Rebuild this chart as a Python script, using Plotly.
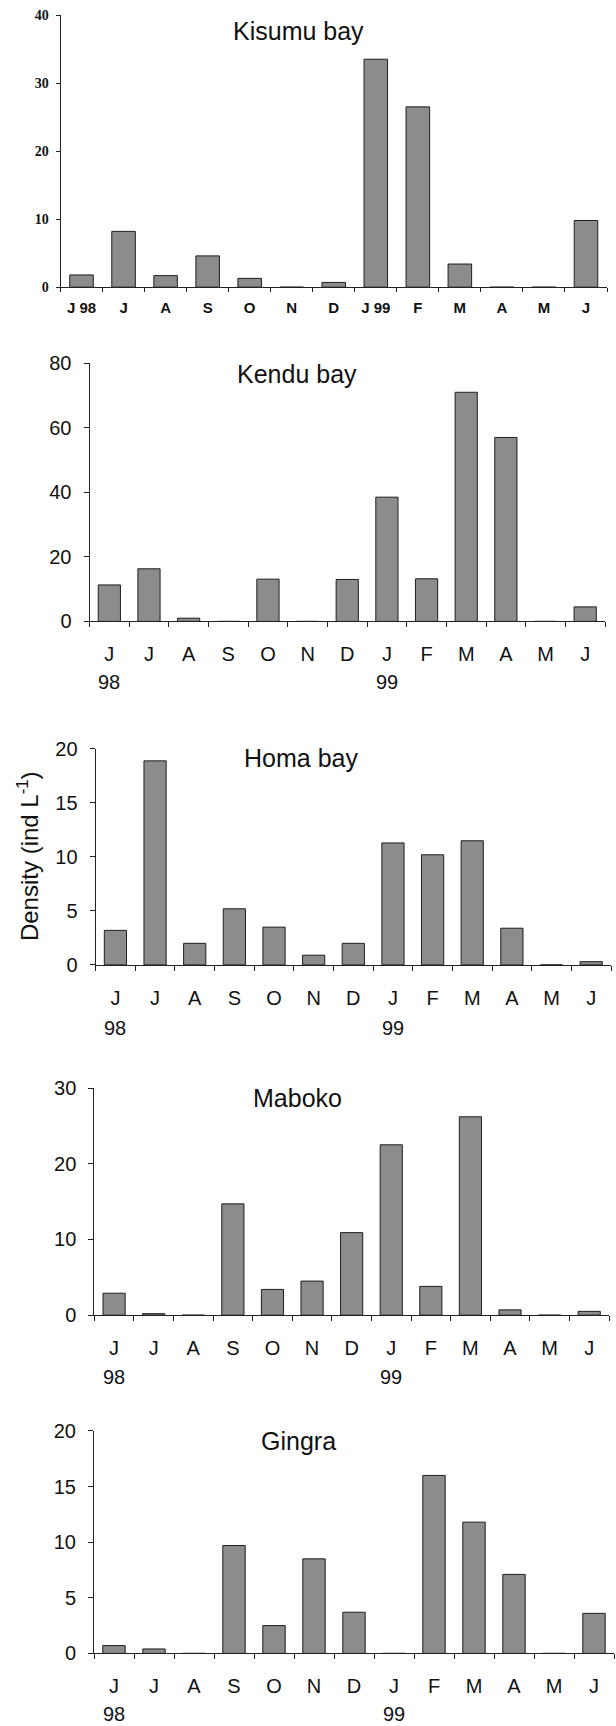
import plotly.graph_objects as go

W, H = 616, 1726

# ---- data -------------------------------------------------------------
months = ["Jun98", "Jul98", "Aug98", "Sep98", "Oct98", "Nov98", "Dec98",
          "Jan99", "Feb99", "Mar99", "Apr99", "May99", "Jun99"]
month_letters = ["J", "J", "A", "S", "O", "N", "D", "J", "F", "M", "A", "M", "J"]
kisumu_ticktext = ["J 98", "J", "A", "S", "O", "N", "D", "J 99", "F", "M", "A", "M", "J"]
year_labels = {"Jun98": "98", "Jan99": "99"}

stations = ["Kisumu bay", "Kendu bay", "Homa bay", "Maboko", "Gingra"]
kisumu = [1.8, 8.2, 1.7, 4.6, 1.3, 0, 0.7, 33.5, 26.5, 3.4, 0, 0, 9.8]
kendu = [11.3, 16.3, 1.0, 0, 13.1, 0, 13.0, 38.5, 13.2, 71.0, 57.0, 0, 4.5]
homa = [3.2, 18.9, 2.0, 5.2, 3.5, 0.9, 2.0, 11.3, 10.2, 11.5, 3.4, 0, 0.3]
maboko = [2.9, 0.2, 0, 14.7, 3.4, 4.5, 10.9, 22.5, 3.8, 26.2, 0.7, 0, 0.5]
gingra = [0.7, 0.4, 0, 9.7, 2.5, 8.5, 3.7, 0, 16.0, 11.8, 7.1, 0, 3.6]
series = [kisumu, kendu, homa, maboko, gingra]
y_max = [40, 80, 20, 30, 20]
y_dtick = [10, 20, 5, 10, 5]
y_title = "Density (ind L<sup>-1</sup>)"

# ---- layout geometry (pixels, as seen in the picture) -----------------
# (x_left, x_right, y_top, y_bottom)
boxes = [
    (60.5, 607, 15, 287),
    (89.5, 605, 363, 621),
    (95.6, 611, 748.5, 964.3),
    (94.3, 609, 1087.3, 1314.3),
    (94.0, 614, 1430, 1652.3),
]
title_pos = [(298, 31), (297, 374), (300.6, 758), (297, 1097), (298.6, 1440)]
year_y = [None, 682, 1027, 1376, 1713]

# the captured page is squeezed slightly in height; compensate
SQ_A, SQ_B = 0.9866, 11.0


def fx(p):
    return p / W


def fy(p):
    return 1 - ((p - SQ_B) / SQ_A) / H


SANS = "Liberation Sans, Arial, sans-serif"
SERIF = "Liberation Serif, Times New Roman, serif"

fig = go.Figure()
layout = dict(
    width=W, height=H, autosize=False,
    margin=dict(l=0, r=0, t=0, b=0),
    paper_bgcolor="white", plot_bgcolor="white",
    showlegend=False, bargap=0.44,
    annotations=[],
)

for i, (name, vals) in enumerate(zip(stations, series)):
    n = "" if i == 0 else str(i + 1)
    xl, xr, yt, yb = boxes[i]
    fig.add_trace(go.Bar(
        x=months, y=vals, name=name,
        xaxis="x" + n, yaxis="y" + n,
        marker=dict(color="#8c8c8c", line=dict(color="#1e1e1e", width=1)),
    ))
    first = i == 0
    layout["xaxis" + n] = dict(
        domain=[fx(xl), fx(xr)], anchor="y" + n, type="category",
        tickmode="array", tickvals=months,
        ticktext=kisumu_ticktext if first else month_letters,
        tickson="boundaries", ticks="outside", ticklen=4 if first else 5,
        tickcolor="#222", showline=True, linecolor="#222", linewidth=1,
        showgrid=False, zeroline=False,
        ticklabelstandoff=7 if first else 15,
        tickfont=dict(family=SANS, size=15 if first else 20, color="#111",
                      weight="bold" if first else "normal"),
        fixedrange=True,
    )
    layout["yaxis" + n] = dict(
        domain=[fy(yb), fy(yt)], anchor="x" + n,
        range=[0, y_max[i]], dtick=y_dtick[i], tick0=0,
        ticks="outside", ticklen=4 if first else 5, tickcolor="#222",
        showline=True, linecolor="#222", linewidth=1,
        showgrid=False, zeroline=False,
        ticklabelstandoff=4 if first else 8,
        tickfont=dict(family=SERIF if first else SANS,
                      size=14 if first else 20, color="#111",
                      weight="bold" if first else "normal"),
        fixedrange=True,
    )
    tx, ty = title_pos[i]
    layout["annotations"].append(dict(
        text=name, xref="paper", yref="paper", x=fx(tx), y=fy(ty),
        xanchor="center", yanchor="middle", showarrow=False,
        font=dict(family=SANS, size=25, color="#111"),
    ))
    if year_y[i] is not None:
        for m, lab in year_labels.items():
            layout["annotations"].append(dict(
                text=lab, xref="x" + n, yref="paper", x=m, y=fy(year_y[i]),
                xanchor="center", yanchor="middle", showarrow=False,
                font=dict(family=SANS, size=20, color="#111"),
            ))

layout["annotations"].append(dict(
    text=y_title, xref="paper", yref="paper", x=fx(27.5), y=fy(856),
    xanchor="center", yanchor="middle", textangle=-90, showarrow=False,
    font=dict(family=SANS, size=24, color="#111"),
))

fig.update_layout(**layout)
fig.write_html(
    "out.html",
    config={"displayModeBar": False},
    post_script="document.body.style.margin='0px';",
)
